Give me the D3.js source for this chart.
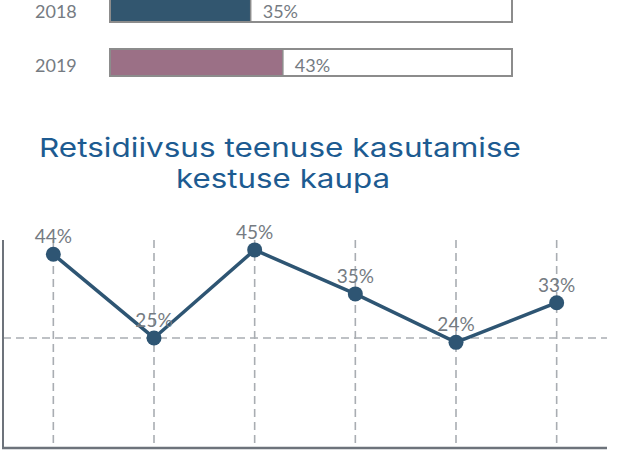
<!DOCTYPE html>
<html>
<head>
<meta charset="utf-8">
<script src="https://cdn.jsdelivr.net/npm/d3@7"></script>
<style>
  html, body { margin: 0; padding: 0; background: #fff; }
  svg { display: block; }
</style>
</head>
<body>
<div id="chart"></div>
<script>

// Top part: share per year (bars out of 100%)
var years = ["2018", "2019"];
var yearValues = [35, 43];
var yearColors = ["#32566f", "#9b7086"];

// Line chart: recidivism by length of service use
var title = ["Retsidiivsus teenuse kasutamise", "kestuse kaupa"];
var durationGroups = ["1", "2", "3", "4", "5", "6"];
var recidivism = [44, 25, 45, 35, 24, 33];
var gridValues = [25];

var width = 624, height = 454;
var textGray = "#757b82";

var svg = d3.select("#chart").append("svg")
    .attr("width", width)
    .attr("height", height);

// ---- bars ----
var xBar = d3.scaleLinear().domain([0, 100]).range([110, 512]);
// page is scrolled, so the first row sits partly above the top edge
var yBar = d3.scaleBand().domain(years).range([-5, 76]).paddingInner(0.5).paddingOuter(0);

var rows = svg.selectAll("g.row")
    .data(years)
    .enter()
    .append("g")
    .attr("class", "row");

rows.append("rect")
    .attr("x", xBar(0))
    .attr("y", function(d) { return yBar(d); })
    .attr("width", xBar(100) - xBar(0))
    .attr("height", yBar.bandwidth())
    .attr("fill", "#fff");

rows.append("rect")
    .attr("x", xBar(0))
    .attr("y", function(d) { return yBar(d); })
    .attr("width", function(d, i) { return xBar(yearValues[i]) - xBar(0); })
    .attr("height", yBar.bandwidth())
    .attr("fill", function(d, i) { return yearColors[i]; });

// border on top of the fill
rows.append("rect")
    .attr("x", xBar(0))
    .attr("y", function(d) { return yBar(d); })
    .attr("width", xBar(100) - xBar(0))
    .attr("height", yBar.bandwidth())
    .attr("fill", "none")
    .attr("stroke", "#8c8c8c")
    .attr("stroke-width", 2);

rows.append("line")
    .attr("x1", function(d, i) { return xBar(yearValues[i]); })
    .attr("x2", function(d, i) { return xBar(yearValues[i]); })
    .attr("y1", function(d) { return yBar(d); })
    .attr("y2", function(d) { return yBar(d) + yBar.bandwidth(); })
    .attr("stroke", "#8c8c8c")
    .attr("stroke-width", 1.5);

rows.append("text")
    .attr("x", 35)
    .attr("y", function(d) { return yBar(d) + yBar.bandwidth() / 2; })
    .attr("dy", "0.52em")
    .attr("font-family", "Lato, sans-serif")
    .attr("font-size", 18)
    .attr("fill", textGray)
    .text(function(d) { return d; });

rows.append("text")
    .attr("x", function(d, i) { return xBar(yearValues[i]) + 12; })
    .attr("y", function(d) { return yBar(d) + yBar.bandwidth() / 2; })
    .attr("dy", "0.52em")
    .attr("font-family", "Lato, sans-serif")
    .attr("font-size", 18)
    .attr("fill", textGray)
    .text(function(d, i) { return yearValues[i] + "%"; });

// ---- title ----
var titleLengths = [482, 214];
svg.selectAll("text.title")
    .data(title)
    .enter()
    .append("text")
    .attr("class", "title")
    .attr("x", function(d, i) { return i == 0 ? 280 : 283; })
    .attr("y", function(d, i) { return 157 + i * 31; })
    .attr("text-anchor", "middle")
    .attr("font-family", "Inter, 'Noto Sans', sans-serif")
    .attr("font-size", 26)
    .attr("fill", "#1d5b91")
    .attr("textLength", function(d, i) { return titleLengths[i]; })
    .attr("lengthAdjust", "spacingAndGlyphs")
    .text(function(d) { return d; });

// ---- line chart ----
var x = d3.scalePoint().domain(durationGroups).range([3, 607]).padding(0.5);
var y = d3.scaleLinear().domain([0, d3.max(recidivism) * 1.05]).range([448, 240]);

var grid = svg.append("g")
    .attr("stroke", "#a9adb2")
    .attr("stroke-width", 1.6)
    .attr("stroke-dasharray", "8,5");

grid.selectAll("line.v")
    .data(durationGroups)
    .enter()
    .append("line")
    .attr("x1", function(d) { return x(d); })
    .attr("x2", function(d) { return x(d); })
    .attr("y1", y.range()[1])
    .attr("y2", y.range()[0]);

grid.selectAll("line.h")
    .data(gridValues)
    .enter()
    .append("line")
    .attr("x1", 3)
    .attr("x2", 607)
    .attr("y1", function(d) { return y(d); })
    .attr("y2", function(d) { return y(d); });

// axes: plain lines, the tick labels are outside this crop
svg.append("line")
    .attr("x1", 3).attr("x2", 3)
    .attr("y1", y.range()[1]).attr("y2", y.range()[0] + 1)
    .attr("stroke", "#6d737b")
    .attr("stroke-width", 2);

svg.append("line")
    .attr("x1", 2).attr("x2", 607)
    .attr("y1", y(0)).attr("y2", y(0))
    .attr("stroke", "#6d737b")
    .attr("stroke-width", 2.5);

var line = d3.line()
    .x(function(d, i) { return x(durationGroups[i]); })
    .y(function(d) { return y(d); });

svg.append("path")
    .datum(recidivism)
    .attr("d", line)
    .attr("fill", "none")
    .attr("stroke", "#2e5573")
    .attr("stroke-width", 3.5);

svg.selectAll("circle.pt")
    .data(recidivism)
    .enter()
    .append("circle")
    .attr("class", "pt")
    .attr("cx", function(d, i) { return x(durationGroups[i]); })
    .attr("cy", function(d) { return y(d); })
    .attr("r", 7.5)
    .attr("fill", "#2e5573");

svg.selectAll("text.pt")
    .data(recidivism)
    .enter()
    .append("text")
    .attr("class", "pt")
    .attr("x", function(d, i) { return x(durationGroups[i]); })
    .attr("y", function(d) { return y(d) - 11; })
    .attr("text-anchor", "middle")
    .attr("font-family", "Lato, sans-serif")
    .attr("font-size", 19)
    .attr("fill", textGray)
    .text(function(d) { return d + "%"; });

</script>
</body>
</html>
